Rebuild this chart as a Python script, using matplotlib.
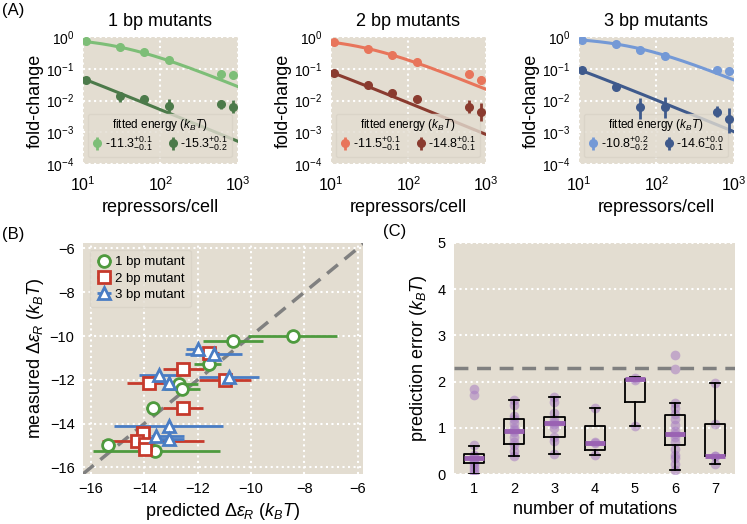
import numpy as np
import matplotlib
matplotlib.use("Agg")
import matplotlib.pyplot as plt

plt.rcParams['font.family'] = ['Liberation Sans', 'DejaVu Sans']
plt.rcParams['mathtext.fontset'] = 'custom'
plt.rcParams['mathtext.rm'] = 'Liberation Sans'
plt.rcParams['mathtext.it'] = 'Liberation Sans:italic'

BG = '#E3DDD1'

# ---- panel A data ----
repressors = [11, 30, 62, 130, 610, 870]
n_ns = 4.6e6

titles_a = ['1 bp mutants', '2 bp mutants', '3 bp mutants']
energies = [(-11.3, -15.3), (-11.5, -14.8), (-10.8, -14.6)]
energy_labels = [
    (r'-11.3$^{+0.1}_{-0.1}$', r'-15.3$^{+0.1}_{-0.2}$'),
    (r'-11.5$^{+0.1}_{-0.1}$', r'-14.8$^{+0.1}_{-0.1}$'),
    (r'-10.8$^{+0.2}_{-0.2}$', r'-14.6$^{+0.0}_{-0.1}$'),
]
colors_a = [('#7DBE77', '#4C7A4A'), ('#E8755B', '#8A3B2F'), ('#7499D6', '#3F5A8C')]

# fold-change values (weak, strong) per panel
fc_1bp_weak = [0.75, 0.49, 0.34, 0.186, 0.068, 0.062]
fc_1bp_weak_lo = [0.72, 0.46, 0.32, 0.17, 0.062, 0.056]
fc_1bp_weak_hi = [0.78, 0.52, 0.36, 0.20, 0.074, 0.068]
fc_1bp_strong = [0.046, 0.0138, 0.0109, 0.0067, 0.0076, 0.0064]
fc_1bp_strong_lo = [0.043, 0.0092, 0.0082, 0.0045, 0.0053, 0.0040]
fc_1bp_strong_hi = [0.049, 0.019, 0.0138, 0.0109, 0.0104, 0.0104]

fc_2bp_weak = [0.73, 0.43, 0.28, 0.165, 0.068, 0.044]
fc_2bp_weak_lo = [0.70, 0.41, 0.265, 0.155, 0.062, 0.033]
fc_2bp_weak_hi = [0.76, 0.45, 0.295, 0.175, 0.074, 0.059]
fc_2bp_strong = [0.0745, 0.032, 0.0176, 0.0109, 0.0064, 0.0045]
fc_2bp_strong_lo = [0.070, 0.030, 0.0163, 0.0100, 0.0040, 0.0022]
fc_2bp_strong_hi = [0.079, 0.034, 0.0190, 0.0118, 0.0104, 0.0082]

fc_3bp_weak = [0.845, 0.618, 0.382, 0.254, 0.095, 0.086]
fc_3bp_weak_lo = [0.81, 0.59, 0.36, 0.24, 0.088, 0.079]
fc_3bp_weak_hi = [0.88, 0.65, 0.40, 0.27, 0.102, 0.093]
fc_3bp_strong = [0.095, 0.027, 0.0061, 0.0064, 0.0045, 0.0026]
fc_3bp_strong_lo = [0.089, 0.025, 0.0026, 0.0028, 0.0030, 0.00094]
fc_3bp_strong_hi = [0.101, 0.029, 0.0117, 0.0131, 0.0067, 0.0057]

fc_sets = [
    ((fc_1bp_weak, fc_1bp_weak_lo, fc_1bp_weak_hi), (fc_1bp_strong, fc_1bp_strong_lo, fc_1bp_strong_hi)),
    ((fc_2bp_weak, fc_2bp_weak_lo, fc_2bp_weak_hi), (fc_2bp_strong, fc_2bp_strong_lo, fc_2bp_strong_hi)),
    ((fc_3bp_weak, fc_3bp_weak_lo, fc_3bp_weak_hi), (fc_3bp_strong, fc_3bp_strong_lo, fc_3bp_strong_hi)),
]

# ---- panel B data ----
pred_1bp = [-8.44, -10.69, -11.59, -12.69, -12.59, -13.66, -15.35, -13.59]
meas_1bp = [-10.0, -10.25, -11.27, -12.2, -12.42, -13.28, -14.97, -15.27]
pred_1bp_lo = [-10.13, -11.81, -12.12, -13.25, -13.25, -13.94, -15.6, -15.94]
pred_1bp_hi = [-6.79, -9.56, -11.13, -12.0, -11.9, -13.4, -15.1, -11.15]

pred_2bp = [-11.56, -12.56, -13.81, -10.96, -12.56, -14.06, -14.29, -13.96, -13.96]
meas_2bp = [-10.76, -11.52, -12.13, -12.0, -13.28, -14.41, -14.79, -14.95, -15.15]
pred_2bp_lo = [-11.9, -13.31, -14.65, -11.94, -13.29, -14.3, -15.6, -14.3, -14.2]
pred_2bp_hi = [-11.2, -11.75, -12.96, -10.0, -11.81, -13.8, -11.77, -13.6, -13.7]

pred_3bp = [-12.0, -11.38, -13.44, -13.06, -10.81, -13.09, -13.56, -13.06]
meas_3bp = [-10.6, -10.8, -11.78, -12.13, -11.85, -14.13, -14.56, -14.68]
pred_3bp_lo = [-12.45, -12.46, -14.21, -13.31, -11.94, -15.12, -13.75, -13.4]
pred_3bp_hi = [-11.31, -10.32, -12.63, -12.69, -9.69, -11.06, -12.5, -12.5]

# ---- panel C data ----
n_mutations = [1, 2, 3, 4, 5, 6, 7]
box_q1 = [0.24, 0.65, 0.79, 0.53, 1.55, 0.63, 0.39]
box_med = [0.34, 0.94, 1.11, 0.68, 2.05, 0.86, 0.39]
box_q3 = [0.43, 1.18, 1.24, 1.04, 2.06, 1.27, 1.08]
whis_lo = [0.0, 0.40, 0.43, 0.41, 1.04, 0.09, 0.22]
whis_hi = [0.60, 1.60, 1.67, 1.42, 2.09, 1.53, 1.97]
err_points = [
    [1.83, 1.71, 0.62, 0.42, 0.38, 0.34, 0.30, 0.27, 0.22, 0.15, 0.08, 0.02],
    [1.60, 1.50, 1.25, 1.18, 1.10, 1.00, 0.95, 0.90, 0.80, 0.70, 0.62, 0.50, 0.40],
    [1.67, 1.55, 1.32, 1.20, 1.12, 1.08, 1.00, 0.80, 0.72, 0.43],
    [1.42, 0.69, 0.67, 0.42],
    [2.08, 2.04, 1.04],
    [2.57, 2.28, 1.53, 1.42, 1.30, 1.20, 1.05, 0.92, 0.86, 0.80, 0.70, 0.55, 0.42, 0.35, 0.22, 0.08],
    [1.97, 1.08, 0.40, 0.38, 0.22],
]
error_threshold = 2.3


def style_axes(ax):
    ax.set_facecolor(BG)
    for s in ax.spines.values():
        s.set_visible(False)
    ax.grid(True, color='white', linestyle=':', linewidth=1.5)
    ax.set_axisbelow(True)
    ax.tick_params(length=0)


fig = plt.figure(figsize=(7.47, 5.24), dpi=100)

# ---- panel A ----
lefts = [0.111, 0.443, 0.775]
r_fine = np.logspace(1, 3, 200)
for i in range(3):
    ax = fig.add_axes([lefts[i], 0.687, 0.2075, 0.242])
    style_axes(ax)
    ax.set_xscale('log')
    ax.set_yscale('log')
    handles = []
    for j in range(2):
        c = colors_a[i][j]
        eps = energies[i][j]
        # fit curve from the fitted binding energy shown in the legend
        theory = 1 / (1 + 2 * r_fine / n_ns * np.exp(-eps))
        ax.plot(r_fine, theory, color=c, lw=2.2, zorder=2)
        fc, lo, hi = fc_sets[i][j]
        fc = np.array(fc)
        yerr = [fc - np.array(lo), np.array(hi) - fc]
        h = ax.errorbar(repressors, fc, yerr=yerr, fmt='o', color=c, ms=5.5,
                        elinewidth=2, capsize=0, zorder=6,
                        label=energy_labels[i][j])
        handles.append(h)
    ax.set_xlim(10, 1000)
    ax.set_ylim(1e-4, 1)
    ax.set_yticks([1e-4, 1e-3, 1e-2, 1e-1, 1])
    ax.minorticks_off()
    ax.tick_params(axis='x', labelsize=11.5, pad=8)
    ax.tick_params(axis='y', labelsize=10, pad=6)
    ax.set_title(titles_a[i], fontsize=13, pad=8)
    ax.set_xlabel('repressors/cell', fontsize=13, labelpad=4)
    ax.set_ylabel('fold-change', fontsize=13, labelpad=2)
    leg = ax.legend(handles=handles, ncol=2, loc='lower left',
                    bbox_to_anchor=(0.015, 0.035), fontsize=9,
                    title=r'fitted energy ($k_BT$)', title_fontsize=8.5,
                    handlelength=0.9, handletextpad=0.15, columnspacing=1.2,
                    facecolor=BG, edgecolor='#D8D2C6', framealpha=0.8,
                    borderpad=0.3, labelspacing=0.1, borderaxespad=0.2)
    leg.get_frame().set_linewidth(1.0)

# ---- panel B ----
axb = fig.add_axes([0.111, 0.0954, 0.375, 0.441])
style_axes(axb)
axb.plot([-16.3, -5.75], [-16.3, -5.75], color='#808080', lw=2.5,
         ls=(0, (4, 2.5)), zorder=2)
b_sets = [
    (pred_1bp, meas_1bp, pred_1bp_lo, pred_1bp_hi, '#4E9A3E', 'o', '1 bp mutant', 8.5),
    (pred_2bp, meas_2bp, pred_2bp_lo, pred_2bp_hi, '#C63A2C', 's', '2 bp mutant', 8.5),
    (pred_3bp, meas_3bp, pred_3bp_lo, pred_3bp_hi, '#4A7DC4', '^', '3 bp mutant', 9),
]
for px, my, lo, hi, c, m, lab, ms in b_sets:
    px = np.array(px)
    xerr = [px - np.array(lo), np.array(hi) - px]
    axb.errorbar(px, my, xerr=xerr, fmt=m, color=c, mfc='white', mec=c,
                 mew=2, ms=ms, elinewidth=2, capsize=0, label=lab, zorder=3)
axb.set_xlim(-16.3, -5.8)
axb.set_ylim(-16.3, -5.75)
axb.set_xticks([-16, -14, -12, -10, -8, -6])
axb.set_yticks([-16, -14, -12, -10, -8, -6])
axb.tick_params(labelsize=10.5, pad=6)
axb.set_xlabel(r'predicted $\Delta\varepsilon_R$ ($k_BT$)', fontsize=13, labelpad=3)
axb.set_ylabel(r'measured $\Delta\varepsilon_R$ ($k_BT$)', fontsize=13, labelpad=3)
axb.legend(loc='upper left', fontsize=9.5, handletextpad=0.2, handlelength=1.2,
           borderpad=0.5, labelspacing=0.3, facecolor=BG, edgecolor='#D8D2C6',
           framealpha=0.8)

# ---- panel C ----
axc = fig.add_axes([0.608, 0.0954, 0.376, 0.441])
style_axes(axc)
axc.grid(False, axis='x')
stats = []
for k in range(len(n_mutations)):
    stats.append({'q1': box_q1[k], 'med': box_med[k], 'q3': box_q3[k],
                  'whislo': whis_lo[k], 'whishi': whis_hi[k], 'fliers': []})
for k, pts in enumerate(err_points):
    axc.plot([n_mutations[k]] * len(pts), pts, 'o', color='#A77DC2', alpha=0.55,
             ms=7, mew=0, zorder=3)
axc.bxp(stats, positions=n_mutations, widths=0.5, showfliers=False,
        boxprops=dict(color='black', lw=1.3),
        whiskerprops=dict(color='black', lw=1.3),
        capprops=dict(color='black', lw=1.3),
        medianprops=dict(color='#9A62B3', lw=3.5),
        manage_ticks=False, zorder=4)
axc.axhline(error_threshold, color='#808080', lw=2.5, ls=(0, (4, 2.5)), zorder=2)
axc.set_xlim(0.5, 7.5)
axc.set_ylim(0, 5)
axc.set_xticks(n_mutations)
axc.set_yticks([0, 1, 2, 3, 4, 5])
axc.tick_params(labelsize=10.5, pad=6)
axc.set_xlabel('number of mutations', fontsize=13, labelpad=3)
axc.set_ylabel(r'prediction error ($k_BT$)', fontsize=13, labelpad=6)

# panel letters
fig.text(0.003, 0.995, '(A)', fontsize=12, va='top', ha='left')
fig.text(0.003, 0.567, '(B)', fontsize=12, va='top', ha='left')
fig.text(0.513, 0.572, '(C)', fontsize=12, va='top', ha='left')

fig.savefig('out.png', dpi=100)
